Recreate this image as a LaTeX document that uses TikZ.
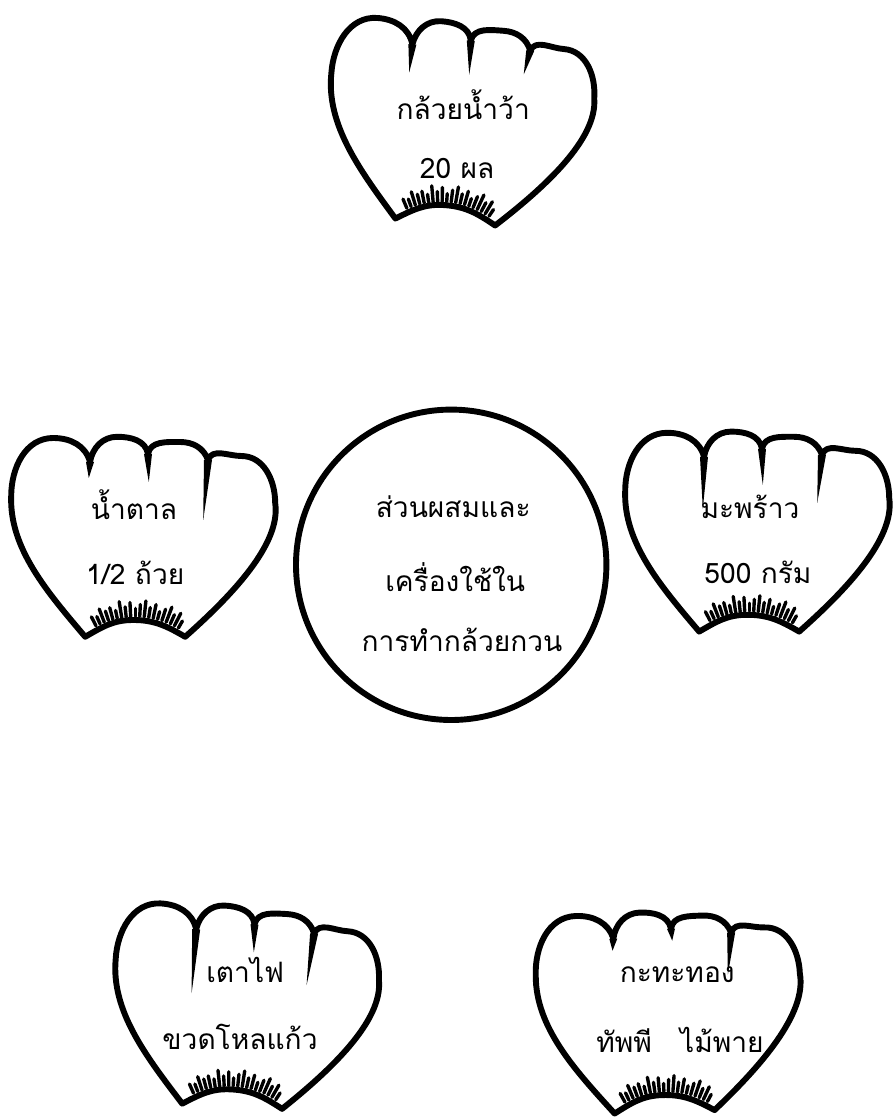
\documentclass[tikz,border=0pt]{standalone}
\usepackage{fontspec}
\newfontfamily\thaifont[Script=Thai]{Loma}
\usetikzlibrary{positioning}

\tikzset{
  petal/.style={line width=4.2pt, line join=round},
  fringe/.style={line width=2.4pt, line cap=round},
  thaitext/.style={font=\thaifont\fontsize{20}{24}\selectfont, inner sep=0pt}
}

% one cupped bloom: #1 centre, #2 tilt, #3-#5 lengths of the three notch strokes
\newcommand{\bloom}[5]{%
  \begin{scope}[shift={#1},rotate=#2]
    \draw[petal] (-1.45,-2.42) .. controls (-2.4,-1.3) and (-3.35,-0.2) .. (-3.3,1.1)
      to[out=90,in=180] (-2.25,2.55) to[out=0,in=105] (-1.33,1.95)
      to[out=80,in=180] (-0.65,2.58) to[out=0,in=100] (0.12,2.15)
      to[out=80,in=180] (0.92,2.45) to[out=0,in=110] (1.62,2.0)
      to[out=70,in=180] (2.45,2.1) to[out=0,in=90] (3.3,0.92)
      .. controls (3.45,-0.1) and (2.2,-1.4) .. (1.05,-2.42)
      to[out=150,in=0] (-0.25,-2.0) to[out=180,in=30] (-1.45,-2.42) -- cycle;
    \fill[shift={(-1.33,1.95)}] (-0.1,0) -- (0.1,0) -- (-0.03,-#3) -- cycle;
    \fill[shift={(0.12,2.15)}] (-0.1,0) -- (0.1,0) -- (0.02,-#4) -- cycle;
    \fill[shift={(1.62,2.0)}] (-0.1,0) -- (0.1,0) -- (-0.12,-#5) -- cycle;
    % fringe along the base
    \foreach \a/\l in {60/0.2,63/0.35,66/0.25,69/0.4,72/0.3,75/0.2,78/0.35,81/0.25,84/0.4,
                       87/0.3,90/0.2,93/0.35,96/0.25,99/0.4,102/0.2,105/0.3,108/0.25,
                       111/0.35,114/0.2,117/0.25}
      \draw[fringe,shift={(-0.2,-4.07)}] (\a:2.16) -- (\a:2.16+\l);
  \end{scope}}

\begin{document}
\begin{tikzpicture}
\useasboundingbox (0,0) rectangle (22.4,28);

% centre
\draw[petal] (11.28,13.88) circle (3.88);
\node[thaitext] (mix) at (11.33,15.33) {ส่วนผสมและ};
\node[thaitext] (tools) at (11.38,13.58) {เครื่องใช้ใน};
\node[thaitext] (make) at (11.55,12.0) {การทำกล้วยกวน};

% blooms
\bloom{(11.5,24.85)}{-4}{0.7}{0.85}{0.6}
\bloom{(3.58,14.5)}{0}{0.4}{0.7}{1.5}
\bloom{(18.93,14.63)}{0}{1.3}{0.9}{1.2}
\bloom{(6.13,2.75)}{-3}{1.6}{0.7}{1.3}
\bloom{(16.73,2.63)}{2}{0.3}{0.3}{1.05}

\node[thaitext] (banana) at (11.58,25.38) {กล้วยน้ำว้า};
\node[thaitext] (bananaqty) at (11.43,23.8) {20 ผล};
\node[thaitext] (sugar) at (3.35,15.38) {น้ำตาล};
\node[thaitext] (sugarqty) at (3.38,13.68) {1/2 ถ้วย};
\node[thaitext] (coconut) at (18.75,15.33) {มะพร้าว};
\node[thaitext] (coconutqty) at (18.95,13.68) {500 กรัม};
\node[thaitext] (stove) at (6.13,3.75) {เตาไฟ};
\node[thaitext] (jar) at (6.0,2.08) {ขวดโหลแก้ว};
\node[thaitext] (pan) at (16.93,3.63) {กะทะทอง};
\node[thaitext] (ladle) at (17.0,2.0) {ทัพพี\quad ไม้พาย};
\end{tikzpicture}
\end{document}
